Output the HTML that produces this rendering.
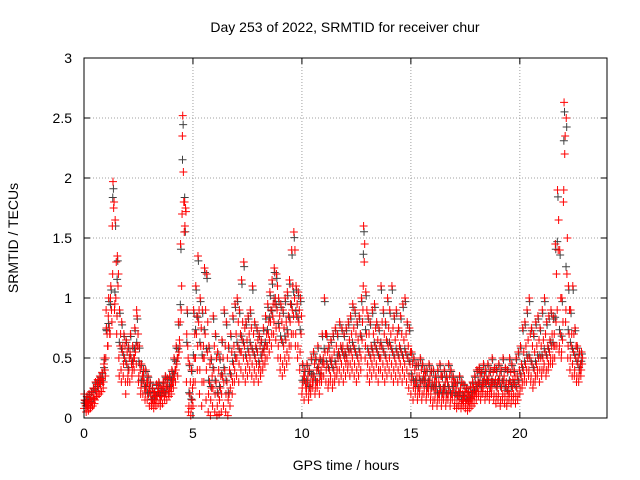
<!DOCTYPE html>
<html><head><meta charset="utf-8"><style>
html,body{margin:0;padding:0;background:#fff;}
svg{display:block;font-family:"Liberation Sans",sans-serif;}
</style></head><body>
<svg id="chart" width="640" height="480" viewBox="0 0 640 480">
<text x="345" y="32" font-size="14" text-anchor="middle">Day 253 of 2022, SRMTID for receiver chur</text>
<text x="346" y="470" font-size="14" text-anchor="middle">GPS time / hours</text>
<text transform="translate(18,238) rotate(-90)" font-size="14" text-anchor="middle">SRMTID / TECUs</text>
<g id="grid"></g>
<g id="ticks"></g>
<g id="pts"></g>
<rect x="84" y="58" width="523" height="360" fill="none" stroke="#000" stroke-width="1"/>
</svg>
<script>
const xTicks=[0,5,10,15,20];
const yTicks=[0,0.5,1,1.5,2,2.5,3];
const yTickLabels=["0","0.5","1","1.5","2","2.5","3"];
const tStart=0, tStep=0.1;
const values=[
[0.08,0.12,0.15,0.1,0.2],[0.05,0.1,0.18,0.12,0.14],[0.06,0.15,0.2,0.09,0.12],[0.08,0.13,0.22,0.1,0.17],[0.1,0.16,0.25,0.12,0.2],
[0.15,0.22,0.3,0.18,0.25],[0.18,0.25,0.32,0.2,0.28],[0.2,0.28,0.35,0.22,0.3],[0.22,0.3,0.38,0.25,0.33],[0.3,0.4,0.5,0.35,0.45],
[0.5,0.7,0.75,0.6,0.9],[0.6,0.75,1.0,0.7,0.85],[0.7,0.9,1.1,0.8,1.0],[1.6,1.75,1.97,1.8,1.2],[0.9,1.0,1.65,1.3,0.95],
[0.7,1.1,1.35,1.2,0.85],[0.5,0.6,0.9,0.7,0.35],[0.4,0.55,0.8,0.6,0.3],[0.35,0.5,0.7,0.6,0.45],[0.3,0.45,0.65,0.55,0.2],
[0.3,0.4,0.6,0.5,0.35],[0.3,0.5,0.7,0.45,0.55],[0.35,0.45,0.6,0.5,0.4],[0.4,0.55,0.75,0.6,0.5],[0.45,0.6,0.85,0.7,0.9],
[0.3,0.45,0.6,0.4,0.35],[0.2,0.3,0.45,0.35,0.25],[0.2,0.3,0.4,0.25,0.35],[0.15,0.25,0.4,0.3,0.2],[0.15,0.2,0.35,0.25,0.3],
[0.1,0.2,0.3,0.15,0.25],[0.1,0.15,0.25,0.2,0.12],[0.08,0.15,0.22,0.18,0.12],[0.1,0.18,0.28,0.22,0.15],[0.12,0.2,0.3,0.15,0.25],
[0.1,0.18,0.25,0.2,0.15],[0.12,0.22,0.3,0.18,0.26],[0.15,0.2,0.35,0.25,0.3],[0.15,0.25,0.33,0.2,0.3],[0.18,0.25,0.35,0.3,0.22],
[0.2,0.3,0.4,0.35,0.25],[0.25,0.35,0.5,0.4,0.3],[0.3,0.45,0.6,0.5,0.4],[0.35,0.55,0.8,0.65,0.5],[0.6,0.9,1.45,1.1,0.8],
[1.7,2.05,2.52,1.8,2.35],[1.55,1.75,1.6,1.72,1.8],[0.3,0.6,0.9,0.5,0.7],[0.05,0.2,0.45,0.3,0.1],[0.02,0.15,0.4,0.25,0.08],
[0.1,0.5,0.9,0.7,0.3],[0.3,0.7,1.1,0.85,0.5],[0.4,0.8,1.35,0.9,0.6],[0.2,0.6,1.0,0.75,0.4],[0.1,0.5,0.9,0.6,0.3],
[0.3,0.7,1.25,0.9,0.5],[0.15,0.55,1.2,0.8,0.4],[0.05,0.3,0.6,0.45,0.2],[0.02,0.25,0.5,0.35,0.15],[0.1,0.4,0.85,0.6,0.25],
[0.05,0.3,0.7,0.5,0.2],[0.02,0.2,0.55,0.4,0.1],[0.03,0.25,0.5,0.35,0.15],[0.05,0.35,0.65,0.5,0.2],[0.1,0.4,0.9,0.6,0.3],
[0.05,0.3,0.8,0.5,0.2],[0.02,0.2,0.6,0.4,0.15],[0.1,0.35,0.7,0.55,0.25],[0.2,0.45,0.85,0.6,0.3],[0.3,0.5,0.95,0.7,0.4],
[0.35,0.6,1.0,0.8,0.5],[0.3,0.55,0.9,0.7,0.45],[0.4,0.65,1.15,0.8,0.55],[0.35,0.6,1.3,0.75,0.5],[0.3,0.5,0.8,0.65,0.4],
[0.35,0.55,0.85,0.7,0.45],[0.4,0.6,0.9,0.75,0.5],[0.35,0.55,1.1,0.7,0.45],[0.3,0.5,0.8,0.6,0.4],[0.35,0.55,0.75,0.65,0.45],
[0.3,0.45,0.7,0.6,0.4],[0.35,0.5,0.65,0.55,0.4],[0.4,0.55,0.75,0.6,0.45],[0.45,0.6,0.85,0.7,0.5],[0.5,0.7,0.95,0.8,0.6],
[0.55,0.8,1.05,0.9,0.65],[0.6,0.85,1.15,0.95,0.7],[0.7,0.95,1.25,1.0,0.8],[0.65,0.9,1.2,1.1,0.75],[0.5,0.75,1.0,0.85,0.6],
[0.4,0.65,0.95,0.8,0.5],[0.35,0.6,0.9,0.75,0.45],[0.4,0.65,1.0,0.8,0.5],[0.45,0.7,1.05,0.85,0.55],[0.5,0.8,1.15,0.95,0.6],
[0.6,0.9,1.4,1.1,0.7],[0.7,1.0,1.55,1.4,0.85],[0.6,0.85,1.1,0.95,0.7],[0.5,0.8,1.05,0.9,0.6],[0.4,0.7,1.0,0.85,0.55],
[0.2,0.3,0.45,0.35,0.25],[0.15,0.3,0.4,0.25,0.35],[0.2,0.3,0.45,0.35,0.25],[0.15,0.25,0.4,0.3,0.2],[0.2,0.35,0.5,0.3,0.25],
[0.25,0.35,0.55,0.45,0.3],[0.2,0.3,0.5,0.4,0.25],[0.25,0.4,0.6,0.45,0.3],[0.2,0.35,0.5,0.4,0.3],[0.3,0.45,0.7,0.5,0.35],
[0.35,0.55,1.0,0.7,0.45],[0.3,0.45,0.7,0.55,0.4],[0.25,0.4,0.6,0.5,0.3],[0.3,0.45,0.65,0.5,0.35],[0.25,0.4,0.7,0.55,0.3],
[0.3,0.45,0.75,0.6,0.35],[0.35,0.5,0.7,0.55,0.4],[0.3,0.5,0.8,0.6,0.4],[0.35,0.55,0.75,0.6,0.45],[0.3,0.5,0.7,0.55,0.4],
[0.35,0.5,0.75,0.6,0.45],[0.4,0.55,0.8,0.65,0.45],[0.35,0.55,0.85,0.7,0.45],[0.4,0.6,0.95,0.75,0.5],[0.35,0.55,0.9,0.7,0.45],
[0.3,0.5,0.8,0.65,0.4],[0.35,0.55,0.85,0.7,0.45],[0.4,0.65,1.0,0.8,0.5],[0.9,1.3,1.6,1.45,1.1],[0.5,0.7,1.05,0.9,0.6],
[0.35,0.55,0.85,0.7,0.45],[0.3,0.5,0.8,0.6,0.4],[0.35,0.55,0.9,0.7,0.45],[0.4,0.6,0.95,0.75,0.5],[0.35,0.55,0.8,0.65,0.45],
[0.3,0.5,0.75,0.6,0.4],[0.4,0.6,1.1,0.8,0.5],[0.35,0.55,0.9,0.7,0.45],[0.3,0.5,0.8,0.65,0.4],[0.35,0.6,1.0,0.75,0.45],
[0.4,0.6,0.9,0.7,0.5],[0.35,0.55,1.1,0.75,0.45],[0.3,0.5,0.85,0.65,0.4],[0.35,0.55,0.9,0.7,0.45],[0.3,0.5,0.75,0.6,0.4],
[0.35,0.55,0.85,0.7,0.45],[0.3,0.5,0.95,0.65,0.4],[0.35,0.55,1.0,0.7,0.45],[0.3,0.5,0.8,0.6,0.4],[0.25,0.45,0.75,0.55,0.35],
[0.2,0.35,0.55,0.45,0.3],[0.15,0.3,0.5,0.4,0.25],[0.2,0.3,0.45,0.35,0.25],[0.15,0.25,0.45,0.35,0.2],[0.2,0.3,0.5,0.4,0.25],
[0.15,0.3,0.45,0.35,0.2],[0.2,0.3,0.4,0.35,0.25],[0.15,0.25,0.4,0.3,0.2],[0.2,0.3,0.45,0.35,0.25],[0.15,0.25,0.4,0.3,0.2],
[0.1,0.25,0.4,0.3,0.15],[0.15,0.25,0.35,0.3,0.2],[0.1,0.2,0.4,0.3,0.15],[0.15,0.25,0.45,0.35,0.2],[0.1,0.2,0.35,0.25,0.15],
[0.15,0.25,0.4,0.3,0.2],[0.1,0.2,0.35,0.3,0.15],[0.15,0.25,0.45,0.35,0.2],[0.1,0.2,0.4,0.3,0.15],[0.15,0.25,0.35,0.3,0.2],
[0.1,0.2,0.3,0.25,0.15],[0.08,0.18,0.3,0.22,0.12],[0.1,0.2,0.35,0.25,0.15],[0.08,0.15,0.3,0.2,0.12],[0.1,0.18,0.28,0.22,0.14],
[0.08,0.15,0.25,0.2,0.12],[0.06,0.14,0.22,0.18,0.1],[0.08,0.16,0.26,0.2,0.12],[0.1,0.2,0.3,0.25,0.15],[0.12,0.22,0.35,0.28,0.18],
[0.15,0.25,0.4,0.3,0.2],[0.18,0.28,0.42,0.35,0.22],[0.15,0.25,0.38,0.3,0.2],[0.2,0.3,0.45,0.35,0.25],[0.15,0.28,0.4,0.32,0.2],
[0.18,0.3,0.45,0.35,0.22],[0.15,0.25,0.4,0.3,0.2],[0.2,0.3,0.5,0.38,0.25],[0.15,0.28,0.42,0.32,0.2],[0.12,0.25,0.4,0.3,0.18],
[0.15,0.3,0.45,0.35,0.2],[0.1,0.25,0.4,0.3,0.15],[0.15,0.3,0.5,0.35,0.2],[0.12,0.25,0.42,0.3,0.18],[0.1,0.22,0.4,0.28,0.15],
[0.15,0.3,0.5,0.38,0.2],[0.12,0.25,0.45,0.32,0.18],[0.15,0.28,0.4,0.35,0.2],[0.12,0.25,0.5,0.35,0.18],[0.15,0.3,0.55,0.4,0.2],
[0.2,0.35,0.6,0.45,0.25],[0.25,0.4,0.75,0.55,0.3],[0.3,0.45,0.8,0.6,0.35],[0.3,0.5,0.9,0.65,0.4],[0.35,0.5,1.0,0.7,0.4],
[0.3,0.45,0.75,0.6,0.35],[0.25,0.4,0.7,0.55,0.3],[0.3,0.45,0.8,0.6,0.35],[0.35,0.5,0.85,0.65,0.4],[0.3,0.5,0.75,0.6,0.4],
[0.35,0.5,0.9,0.65,0.4],[0.4,0.55,1.0,0.7,0.45],[0.35,0.5,0.8,0.6,0.4],[0.4,0.55,0.85,0.65,0.45],[0.45,0.6,0.9,0.7,0.5],
[0.45,0.6,0.85,0.7,0.5],[0.5,0.8,1.45,1.2,0.6],[0.6,1.4,1.9,1.65,0.9],[0.55,0.7,1.4,1.0,0.6],[0.5,0.65,1.0,0.8,0.55],
[1.8,2.2,2.63,2.35,1.9],[0.8,1.2,2.5,1.5,0.9],[0.5,0.7,1.1,0.9,0.6],[0.4,0.6,0.9,0.7,0.5],[0.35,0.55,1.1,0.7,0.45],
[0.35,0.5,0.75,0.6,0.4],[0.3,0.45,0.6,0.5,0.35],[0.3,0.4,0.55,0.45,0.35],[0.35,0.45,0.55,0.5,0.4]
];
const X0=84,X1=607,Y0=418,Y1=58,XMAX=24,YMAX=3;
function xs(v){return X0+(X1-X0)*v/XMAX;}
function ys(v){return Y0-(Y0-Y1)*v/YMAX;}
const NS="http://www.w3.org/2000/svg";
const grid=document.getElementById('grid'),ticks=document.getElementById('ticks'),pts=document.getElementById('pts');
function mk(tag,attrs,parent){const e=document.createElementNS(NS,tag);for(const k in attrs)e.setAttribute(k,attrs[k]);parent.appendChild(e);return e;}
xTicks.forEach(t=>{
  const x=xs(t);
  if(t>0){
    const g=mk('line',{x1:x,x2:x,y1:Y1,y2:Y0,stroke:'#a0a0a0','stroke-dasharray':'1,2'},grid);
    
    
  }
  mk('line',{x1:x,x2:x,y1:Y0,y2:Y0-6,stroke:'#000'},ticks);
  mk('line',{x1:x,x2:x,y1:Y1,y2:Y1+6,stroke:'#000'},ticks);
  const l=mk('text',{x:x,y:Y0+20,'font-size':14,'text-anchor':'middle'},ticks);
  l.textContent=String(t);
  
  
});
yTicks.forEach((t,i)=>{
  const y=ys(t);
  if(t>0&&t<YMAX){
    const g=mk('line',{x1:X0,x2:X1,y1:y,y2:y,stroke:'#a0a0a0','stroke-dasharray':'1,2'},grid);
    
    
  }
  mk('line',{x1:X0,x2:X0+6,y1:y,y2:y,stroke:'#000'},ticks);
  mk('line',{x1:X1,x2:X1-6,y1:y,y2:y,stroke:'#000'},ticks);
  const l=mk('text',{x:X0-12,y:y+5,'font-size':14,'text-anchor':'end'},ticks);
  l.textContent=yTickLabels[i];
  
  
});
function plus(cx,cy,col){
  const p=mk('path',{d:`M${cx-4},${cy}h8M${cx},${cy-4}v8`,stroke:col,'stroke-width':1,fill:'none'},pts);
  
  
}
const offsets=[0.0,0.06,0.03,0.08,0.015];
values.forEach((row,i)=>{const t=tStart+i*tStep;plus(xs(t+0.05),ys(row[2]*0.97),'#404040');plus(xs(t+0.02),ys(row[1]*1.05),'#404040');});
values.forEach((row,i)=>{
  const t=tStart+i*tStep;
  row.forEach((v,k)=>{plus(xs(t+offsets[k]),ys(v),'#ff0000');});
});
</script>
</body></html>
